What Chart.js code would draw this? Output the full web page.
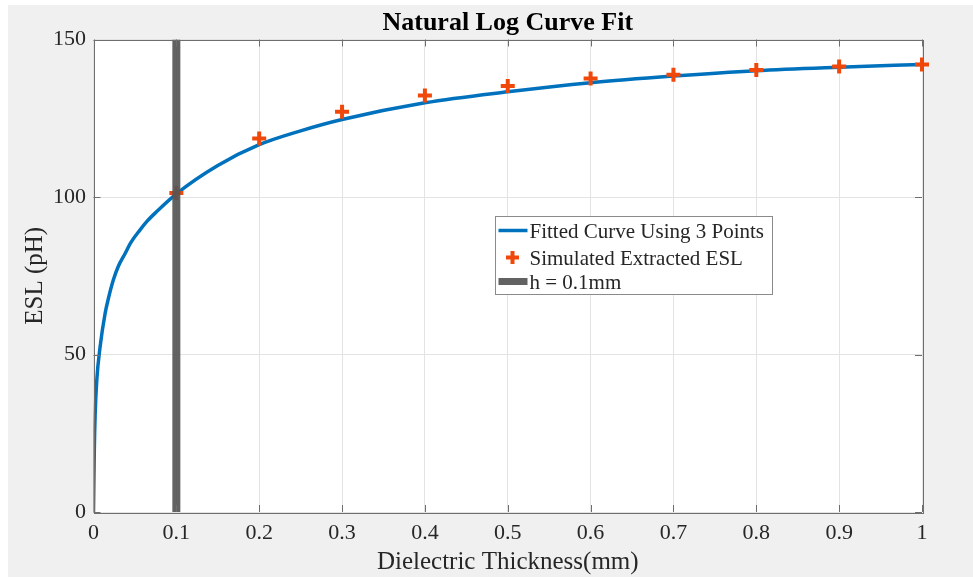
<!DOCTYPE html>
<html>
<head>
<meta charset="utf-8">
<script src="https://cdn.jsdelivr.net/npm/chart.js@4.4.1/dist/chart.umd.min.js"></script>
<style>
  html, body { margin:0; padding:0; background:#fff; }
  #wrap { position:absolute; left:8px; top:5px; width:965px; height:572px; background:#f0f0f0; }
</style>
</head>
<body>
<div id="wrap"><canvas id="c" width="965" height="572"></canvas></div>
<script>
// Кривая (читано с картинки)
const thicknessFit = [0, 0.001, 0.002, 0.004, 0.008, 0.014, 0.018, 0.024, 0.03, 0.038, 0.045, 0.056, 0.065, 0.076, 0.1, 0.15, 0.2, 0.25, 0.3, 0.4, 0.5, 0.6, 0.7, 0.8, 0.9, 1.0];
const eslFit       = [0, 20, 31, 42, 52.5, 63, 67.8, 73.7, 78, 82, 85.5, 89.5, 92.4, 95.3, 101, 110, 116.6, 121, 124.6, 129.9, 133.4, 136.3, 138.4, 140.1, 141.2, 142.1];

// Симулированные точки
const thicknessSim = [0.1, 0.2, 0.3, 0.4, 0.5, 0.6, 0.7, 0.8, 0.9, 1.0];
const eslSim       = [101.3, 118.6, 127.1, 132.2, 135.2, 137.6, 138.8, 140.3, 141.4, 142.1];

// Вертикальная линия h = 0.1mm
const hLine = 0.1;

const xTicks = [0, 0.1, 0.2, 0.3, 0.4, 0.5, 0.6, 0.7, 0.8, 0.9, 1];
const yTicks = [0, 50, 100, 150];

const legendLabels = ['Fitted Curve Using 3 Points', 'Simulated Extracted ESL', 'h = 0.1mm'];
const titleText = 'Natural Log Curve Fit';

const serif = '"Liberation Serif", "Times New Roman", serif';
const blue = '#0072BD', orange = '#F0480A', gray = 'rgba(85,85,85,0.92)';
const frameColor = '#6e6e6e';

const toPts = (xs, ys) => xs.map((x, i) => ({ x: x, y: ys[i] }));

// Рамка, тики внутрь, заголовок, легенда
const matlabLook = {
  id: 'matlabLook',
  beforeDraw(chart) {
    const a = chart.chartArea;
    chart.ctx.save();
    chart.ctx.fillStyle = '#fff';
    chart.ctx.fillRect(a.left, a.top, a.right - a.left, a.bottom - a.top);
    chart.ctx.restore();
  },
  afterDraw(chart) {
    const ctx = chart.ctx, a = chart.chartArea;
    const xs = chart.scales.x, ys = chart.scales.y;
    ctx.save();
    ctx.strokeStyle = frameColor;
    ctx.lineWidth = 1;
    ctx.beginPath();
    xTicks.forEach(v => {
      const p = Math.round(xs.getPixelForValue(v)) + 0.5;
      ctx.moveTo(p, a.bottom); ctx.lineTo(p, a.bottom - 7);
      ctx.moveTo(p, a.top); ctx.lineTo(p, a.top + 7);
    });
    yTicks.forEach(v => {
      const p = Math.round(ys.getPixelForValue(v)) + 0.5;
      ctx.moveTo(a.left, p); ctx.lineTo(a.left + 7, p);
      ctx.moveTo(a.right, p); ctx.lineTo(a.right - 7, p);
    });
    ctx.stroke();
    ctx.strokeRect(Math.round(a.left) + 0.5, Math.round(a.top) + 0.5, Math.round(a.right - a.left), Math.round(a.bottom - a.top));

    // заголовок
    ctx.fillStyle = '#000';
    ctx.font = 'bold 26px ' + serif;
    ctx.textAlign = 'center';
    ctx.textBaseline = 'middle';
    ctx.fillText(titleText, (a.left + a.right) / 2, a.top - 16.5);

    // легенда
    const w = a.right - a.left, h = a.bottom - a.top;
    const bx = Math.round(a.left + 0.4846 * w) + 0.5, by = Math.round(a.top + 0.3735 * h) + 0.5;
    const bw = 277, bh = 78;
    ctx.fillStyle = '#fff';
    ctx.fillRect(bx, by, bw, bh);
    ctx.strokeStyle = '#8a8a8a';
    ctx.strokeRect(bx, by, bw, bh);
    const rows = [by + 14, by + 41, by + 65];
    // линия
    ctx.strokeStyle = blue; ctx.lineWidth = 3.5;
    ctx.beginPath(); ctx.moveTo(bx + 3, rows[0]); ctx.lineTo(bx + 32, rows[0]); ctx.stroke();
    // крестик
    ctx.strokeStyle = orange; ctx.lineWidth = 4;
    ctx.beginPath();
    ctx.moveTo(bx + 10.5, rows[1]); ctx.lineTo(bx + 23.5, rows[1]);
    ctx.moveTo(bx + 17, rows[1] - 6.5); ctx.lineTo(bx + 17, rows[1] + 6.5);
    ctx.stroke();
    // серая полоса
    ctx.strokeStyle = gray; ctx.lineWidth = 7;
    ctx.beginPath(); ctx.moveTo(bx + 3, rows[2]); ctx.lineTo(bx + 32, rows[2]); ctx.stroke();
    ctx.fillStyle = '#262626';
    ctx.font = '21px ' + serif;
    ctx.textAlign = 'left';
    legendLabels.forEach((t, i) => ctx.fillText(t, bx + 34, rows[i] + 1.5));
    ctx.restore();
  }
};

new Chart(document.getElementById('c'), {
  type: 'line',
  data: {
    datasets: [
      {
        label: legendLabels[0],
        data: toPts(thicknessFit, eslFit),
        borderColor: blue,
        borderWidth: 3.5,
        pointRadius: 0,
        cubicInterpolationMode: 'monotone',
        order: 2
      },
      {
        label: legendLabels[1],
        data: toPts(thicknessSim, eslSim),
        showLine: false,
        pointStyle: 'cross',
        pointRadius: 7,
        pointBorderWidth: 4,
        pointBorderColor: orange,
        borderColor: orange,
        clip: false,
        order: 1
      },
      {
        label: legendLabels[2],
        data: [{ x: hLine, y: yTicks[0] }, { x: hLine, y: yTicks[yTicks.length - 1] }],
        borderColor: gray,
        borderWidth: 8,
        pointRadius: 0,
        order: 0
      }
    ]
  },
  options: {
    responsive: false,
    animation: false,
    layout: { padding: { left: 0, right: 51, top: 34.5, bottom: 0 } },
    plugins: { legend: { display: false }, title: { display: false }, tooltip: { enabled: false } },
    scales: {
      x: {
        type: 'linear',
        min: 0, max: 1,
        afterBuildTicks: s => { s.ticks = xTicks.map(v => ({ value: v })); },
        afterFit: s => { s.height = 65; },
        grid: { color: '#e3e3e3', drawTicks: false },
        border: { display: false },
        ticks: {
          padding: 8,
          color: '#262626',
          font: { family: serif, size: 22 },
          maxRotation: 0,
          callback: v => String(Math.round(v * 10) / 10)
        },
        title: {
          display: true,
          text: 'Dielectric Thickness(mm)',
          color: '#262626',
          font: { family: serif, size: 25 },
          padding: { top: 0, bottom: 0 }
        }
      },
      y: {
        min: 0, max: 150,
        afterBuildTicks: s => { s.ticks = yTicks.map(v => ({ value: v })); },
        afterFit: s => { s.width = 85.5; },
        grid: { color: '#e3e3e3', drawTicks: false },
        border: { display: false },
        ticks: {
          padding: 7.5,
          color: '#262626',
          font: { family: serif, size: 22 }
        },
        title: {
          display: true,
          text: 'ESL (pH)',
          color: '#262626',
          font: { family: serif, size: 25 },
          padding: { top: 12, bottom: 0 }
        }
      }
    }
  },
  plugins: [matlabLook]
});
</script>
</body>
</html>
